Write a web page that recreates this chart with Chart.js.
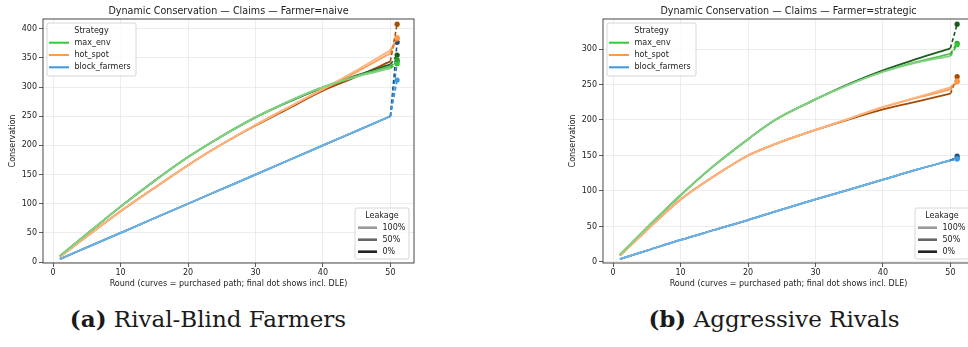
<!DOCTYPE html>
<html>
<head>
<meta charset="utf-8">
<script src="https://cdn.jsdelivr.net/npm/chart.js@4.4.0/dist/chart.umd.min.js"></script>
<style>
    body { margin: 0; width: 968px; height: 347px; overflow: hidden; background: #fff; position: relative; }
    canvas.panel { position: absolute; top: 0; }
    #naiveChart { left: 0; }
    #strategicChart { left: 560px; }
    .cap { position: absolute; top: 305px; font-family: 'DejaVu Serif', serif; font-size: 23px; line-height: 28px; color: #1a1a1a; white-space: nowrap; transform: translateX(-50%); }
    .cap b { font-weight: bold; }
</style>
</head>
<body>
<canvas id="naiveChart" class="panel" width="432" height="290"></canvas>
<canvas id="strategicChart" class="panel" width="432" height="290"></canvas>
<div class="cap" style="left:208px"><b>(a)</b> Rival-Blind Farmers</div>
<div class="cap" style="left:774px"><b>(b)</b> Aggressive Rivals</div>

<script>
// rounds sampled along the purchased path, final dot at round 51 (incl. DLE)
const rounds = [1, 5, 10, 15, 20, 24, 30, 35, 40, 45, 50];
const finalRound = 51;
const xTicks = [0, 10, 20, 30, 40, 50];
const naiveYTicks = [0, 50, 100, 150, 200, 250, 300, 350, 400];
const strategicYTicks = [0, 50, 100, 150, 200, 250, 300];
const strategyLabels = ['max_env', 'hot_spot', 'block_farmers'];
const leakageLabels = ['100%', '50%', '0%'];

// Farmer=naive  (leakage 100% / 50% / 0%)
const naiveMaxEnv100 = [10, 48, 95, 139, 180, 209, 248, 276, 300, 318, 332];
const naiveMaxEnv50  = [10, 48, 95, 139, 180, 209, 248, 276, 300, 319, 335];
const naiveMaxEnv0   = [10, 48, 95, 139, 180, 209, 248, 275, 299, 320, 339];
const naiveHotSpot100 = [9, 44, 87, 127, 166, 195, 235, 266, 297, 329, 363];
const naiveHotSpot50  = [9, 44, 87, 127, 166, 195, 235, 266, 296, 326, 358];
const naiveHotSpot0   = [9, 44, 87, 127, 166, 195, 234, 264, 294, 318, 344];
const naiveBlock100 = [5, 25, 50, 75, 100, 120, 150, 175, 200, 225, 250];
const naiveBlock50  = [5, 25, 50, 75, 100, 120, 150, 175, 200, 225, 250];
const naiveBlock0   = [5, 25, 50, 75, 100, 120, 150, 175, 200, 225, 250];
const naiveMaxEnvDle  = [340, 347, 355];
const naiveHotSpotDle = [385, 383, 408];
const naiveBlockDle   = [312, 344, 377];

// Farmer=strategic
const stratMaxEnv100 = [10, 48, 94, 136, 173, 200, 229, 250, 268, 281, 290];
const stratMaxEnv50  = [10, 48, 94, 136, 173, 200, 229, 250, 268, 282, 293];
const stratMaxEnv0   = [10, 48, 94, 136, 173, 200, 229, 251, 270, 286, 301];
const stratHotSpot100 = [9, 45, 88, 121, 150, 166, 186, 202, 218, 232, 246];
const stratHotSpot50  = [9, 45, 88, 121, 150, 166, 186, 202, 218, 231, 243];
const stratHotSpot0   = [9, 45, 88, 121, 150, 166, 186, 201, 215, 226, 237];
const stratBlock100 = [4, 16, 31, 45, 59, 71, 88, 102, 116, 130, 143];
const stratBlock50  = [4, 16, 31, 45, 59, 71, 88, 102, 116, 130, 143];
const stratBlock0   = [4, 16, 31, 45, 59, 71, 88, 102, 116, 130, 143];
const stratMaxEnvDle  = [306, 308, 335];
const stratHotSpotDle = [255, 254, 261];
const stratBlockDle   = [145, 146, 149];

// colours: [100%, 50%, 0%]
const lineColors = {
    max_env: ['#80d280', '#58c058', '#1f5e1f'],
    hot_spot: ['#ffb27c', '#ff9e55', '#a24c06'],
    block_farmers: ['#6db3e5', '#4c99d6', '#1d5186']
};
const dotColors = {
    max_env: ['#33c733', '#2a9c2a', '#1c5a1c'],
    hot_spot: ['#ff9a45', '#f0842e', '#a34d05'],
    block_farmers: ['#3a98e0', '#2f7fc0', '#1b4f82']
};
const legendColors = ['#33cc33', '#ff9a45', '#3a98e0'];
const leakageGrays = ['#9a9a9a', '#666666', '#222222'];

const FONT = 'DejaVu Sans';

function buildDatasets(curves, dles) {
    const dots = [];
    const lines = [];
    strategyLabels.forEach(name => {
        curves[name].forEach((vals, k) => {
            dots.push({
                data: [{ x: rounds[rounds.length - 1], y: vals[vals.length - 1] }, { x: finalRound, y: dles[name][k] }],
                borderColor: dotColors[name][k],
                backgroundColor: dotColors[name][k],
                borderWidth: 1.6,
                borderDash: [4, 2.5],
                pointRadius: [0, 2.6],
                pointBorderWidth: 0,
                tension: 0
            });
            lines.push({
                leak: k,
                data: rounds.map((r, i) => ({ x: r, y: vals[i] })),
                borderColor: lineColors[name][k],
                borderWidth: 1.8,
                pointRadius: 0,
                cubicInterpolationMode: 'monotone'
            });
        });
    });
    // first dataset is drawn on top: dots, then light curves over dark ones
    lines.sort((a, b) => a.leak - b.leak);
    return dots.concat(lines);
}

function roundRect(ctx, x, y, w, h) {
    ctx.beginPath();
    ctx.roundRect(x, y, w, h, 2);
    ctx.fillStyle = 'rgba(255,255,255,0.8)';
    ctx.fill();
    ctx.strokeStyle = '#cccccc';
    ctx.lineWidth = 0.8;
    ctx.stroke();
}

const decor = {
    id: 'decor',
    afterDraw(chart, args, opts) {
        const { ctx, chartArea: a } = chart;
        ctx.save();
        ctx.strokeStyle = '#333';
        ctx.lineWidth = 0.9;
        ctx.strokeRect(a.left, a.top, a.right - a.left, a.bottom - a.top);

        ctx.fillStyle = '#222';
        ctx.textBaseline = 'middle';
        ctx.textAlign = 'center';
        ctx.font = `9.6px "${FONT}"`;
        ctx.fillText(opts.title, (a.left + a.right) / 2, 11);

        ctx.font = `8px "${FONT}"`;
        // strategy legend
        let bx = a.left + 4, by = a.top + 4;
        roundRect(ctx, bx, by, 89, 53);
        ctx.fillStyle = '#222';
        ctx.textAlign = 'center';
        ctx.fillText('Strategy', bx + 44.5, by + 8);
        ctx.textAlign = 'left';
        strategyLabels.forEach((s, i) => {
            const y = by + 19.7 + i * 12.3;
            ctx.strokeStyle = legendColors[i];
            ctx.lineWidth = 2;
            ctx.beginPath(); ctx.moveTo(bx + 2, y); ctx.lineTo(bx + 22, y); ctx.stroke();
            ctx.fillStyle = '#222';
            ctx.fillText(s, bx + 27.5, y);
        });

        // leakage legend
        bx = a.right - 59; by = a.bottom - 55;
        roundRect(ctx, bx, by, 54, 51);
        ctx.fillStyle = '#222';
        ctx.textAlign = 'center';
        ctx.fillText('Leakage', bx + 27, by + 7.5);
        ctx.textAlign = 'left';
        leakageLabels.forEach((s, i) => {
            const y = by + 19.7 + i * 12;
            ctx.strokeStyle = leakageGrays[i];
            ctx.lineWidth = 2.6;
            ctx.beginPath(); ctx.moveTo(bx + 3, y); ctx.lineTo(bx + 22, y); ctx.stroke();
            ctx.fillStyle = '#222';
            ctx.fillText(s, bx + 27.5, y);
        });
        ctx.restore();
    }
};

function makeChart(id, title, curves, dles, yMin, yMax, yTicks) {
    return new Chart(document.getElementById(id), {
        type: 'line',
        data: { datasets: buildDatasets(curves, dles) },
        plugins: [decor],
        options: {
            responsive: false,
            animation: false,
            layout: { padding: { left: 0, right: 18, top: 19, bottom: 0 } },
            plugins: {
                legend: { display: false },
                tooltip: { enabled: false },
                decor: { title }
            },
            scales: {
                x: {
                    type: 'linear', min: -1.5, max: 53.5,
                    afterBuildTicks: s => { s.ticks = xTicks.map(v => ({ value: v })); },
                    afterFit: s => { s.height = 27; },
                    border: { display: false },
                    grid: { color: '#e9e9e9', lineWidth: 0.8, tickLength: 4, tickColor: '#333', tickWidth: 0.8 },
                    ticks: { font: { family: FONT, size: 8 }, color: '#222', padding: 1, maxRotation: 0 },
                    title: { display: true, text: 'Round (curves = purchased path; final dot shows incl. DLE)', font: { family: FONT, size: 8 }, color: '#222', padding: { top: 0, bottom: 1.2 } }
                },
                y: {
                    type: 'linear', min: yMin, max: yMax,
                    afterBuildTicks: s => { s.ticks = yTicks.map(v => ({ value: v })); },
                    afterFit: s => { s.width = 43; },
                    border: { display: false },
                    grid: { color: '#e9e9e9', lineWidth: 0.8, tickLength: 4, tickColor: '#333', tickWidth: 0.8 },
                    ticks: { font: { family: FONT, size: 8 }, color: '#222', padding: 2 },
                    title: { display: true, text: 'Conservation', font: { family: FONT, size: 8 }, color: '#222', padding: { top: 8.2, bottom: 0 } }
                }
            }
        }
    });
}

makeChart('naiveChart', 'Dynamic Conservation — Claims — Farmer=naive',
    { max_env: [naiveMaxEnv100, naiveMaxEnv50, naiveMaxEnv0],
      hot_spot: [naiveHotSpot100, naiveHotSpot50, naiveHotSpot0],
      block_farmers: [naiveBlock100, naiveBlock50, naiveBlock0] },
    { max_env: naiveMaxEnvDle, hot_spot: naiveHotSpotDle, block_farmers: naiveBlockDle },
    -1.7, 416.8, naiveYTicks);

makeChart('strategicChart', 'Dynamic Conservation — Claims — Farmer=strategic',
    { max_env: [stratMaxEnv100, stratMaxEnv50, stratMaxEnv0],
      hot_spot: [stratHotSpot100, stratHotSpot50, stratHotSpot0],
      block_farmers: [stratBlock100, stratBlock50, stratBlock0] },
    { max_env: stratMaxEnvDle, hot_spot: stratHotSpotDle, block_farmers: stratBlockDle },
    -1.5, 342.3, strategicYTicks);
</script>
</body>
</html>
